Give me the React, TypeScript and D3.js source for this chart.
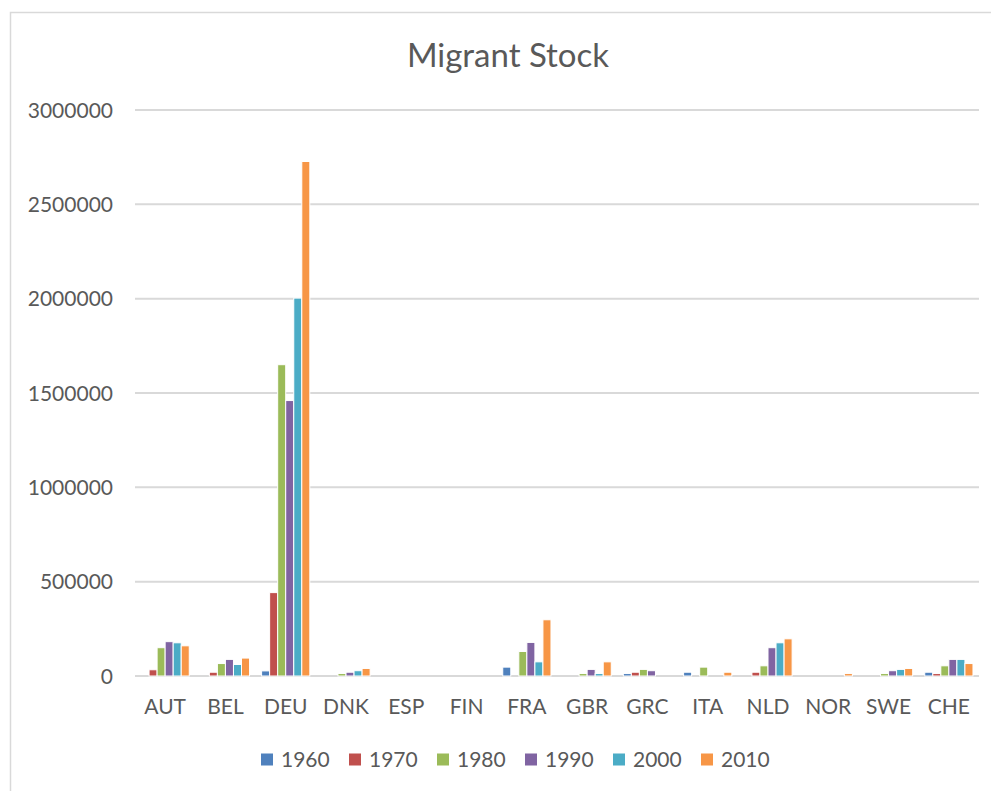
import React from "react";
import * as d3 from "d3";

const countries = ["AUT", "BEL", "DEU", "DNK", "ESP", "FIN", "FRA", "GBR", "GRC", "ITA", "NLD", "NOR", "SWE", "CHE"];
const years = ["1960", "1970", "1980", "1990", "2000", "2010"];
const colors = ["#4F81BD", "#C0504D", "#9BBB59", "#8064A2", "#4BACC6", "#F79646"];

const v1960 = [0, 0, 27000, 0, 0, 0, 47000, 0, 13000, 20000, 0, 0, 0, 20000];
const v1970 = [33000, 20000, 442000, 0, 0, 0, 0, 0, 20000, 0, 20000, 0, 0, 13000];
const v1980 = [150000, 66000, 1650000, 13000, 0, 0, 130000, 13000, 35000, 47000, 54000, 0, 13000, 54000];
const v1990 = [182000, 88000, 1460000, 20000, 0, 0, 178000, 35000, 28000, 0, 150000, 0, 28000, 88000];
const v2000 = [176000, 61000, 2003000, 28000, 0, 0, 75000, 13000, 0, 0, 176000, 0, 35000, 88000];
const v2010 = [160000, 95000, 2727000, 40000, 0, 0, 298000, 75000, 0, 20000, 197000, 13000, 40000, 66000];
const seriesValues = [v1960, v1970, v1980, v1990, v2000, v2010];

const yTicks = [0, 500000, 1000000, 1500000, 2000000, 2500000, 3000000];

const W = 991;
const H = 791;
const FONT = "Lato, 'Open Sans', sans-serif";
const TEXT = "#595959";
const GRID = "#D9D9D9";

export default function App() {
  const x0 = d3.scaleBand<string>().domain(countries).range([135, 979]).paddingInner(0.2).paddingOuter(0.1);
  const x1 = d3.scaleBand<string>().domain(years).range([0, x0.bandwidth()]).padding(0);
  const y = d3.scaleLinear().domain([0, 3000000]).range([676, 110]);

  const legendStep = 88;
  const legendStart = 261;

  return (
    <svg width={W} height={H} style={{ position: "absolute", left: 0, top: 0, background: "#fff" }} fontFamily={FONT}>
      <rect x={0} y={0} width={W} height={H} fill="#fff" />
      <rect x={10.5} y={12.5} width={1200} height={1000} fill="#fff" stroke={GRID} strokeWidth={1.5} />
      <text x={508} y={67} textAnchor="middle" fontSize={33} fill={TEXT}>Migrant Stock</text>

      {yTicks.map((t) => (
        <g key={t}>
          <line x1={135} x2={979} y1={y(t)} y2={y(t)} stroke={GRID} strokeWidth={2} />
          <text x={113} y={y(t)} dy="0.36em" textAnchor="end" fontSize={21} fill={TEXT}>{t}</text>
        </g>
      ))}

      {seriesValues.map((vals, si) => (
        <g key={years[si]}>
          {vals.map((v, ci) =>
            v > 0 ? (
              <rect
                key={countries[ci]}
                x={(x0(countries[ci]) ?? 0) + (x1(years[si]) ?? 0)}
                y={y(v)}
                width={x1.bandwidth()}
                height={y(0) - y(v)}
                fill={colors[si]}
                stroke="#fff"
                strokeWidth={1}
              />
            ) : null
          )}
        </g>
      ))}

      {countries.map((c) => (
        <text key={c} x={(x0(c) ?? 0) + x0.bandwidth() / 2} y={714} textAnchor="middle" fontSize={21} fill={TEXT}>{c}</text>
      ))}

      {years.map((yr, i) => (
        <g key={yr} transform={`translate(${legendStart + i * legendStep},0)`}>
          <rect x={0} y={753.5} width={12} height={12} fill={colors[i]} />
          <text x={20} y={767} fontSize={21} fill={TEXT}>{yr}</text>
        </g>
      ))}
    </svg>
  );
}
